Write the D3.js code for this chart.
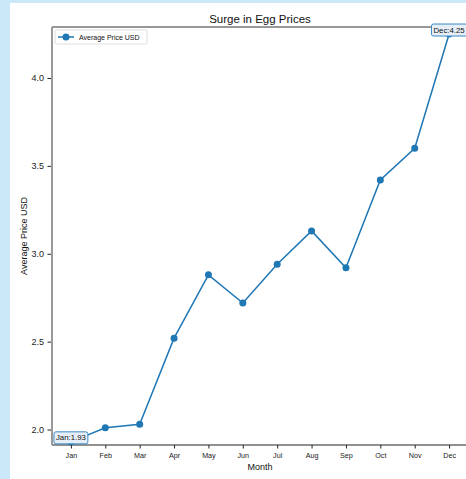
<!DOCTYPE html>
<html><head><meta charset="utf-8">
<script src="https://cdn.jsdelivr.net/npm/d3@7"></script>
<style>body{margin:0;} svg{display:block;font-family:"Liberation Sans",Arial,sans-serif;}</style>
</head><body>
<script>
const months = ["Jan","Feb","Mar","Apr","May","Jun","Jul","Aug","Sep","Oct","Nov","Dec"];
const prices = [1.93,2.01,2.03,2.52,2.88,2.72,2.94,3.13,2.92,3.42,3.60,4.25];
const yTicks = [2.0,2.5,3.0,3.5,4.0];
const annotated = [0,11];

const W=466,H=479;
const svg=d3.select("body").append("svg").attr("width",W).attr("height",H);
svg.append("rect").attr("width",W).attr("height",H).attr("fill","#cbe8f8");
svg.append("rect").attr("x",10).attr("y",3).attr("width",W-10).attr("height",H-3).attr("fill","#ffffff");

const L=52,R=468,T=27,B=445;
const x=d3.scaleLinear().domain([-0.55,11.55]).range([L,R]);
const y=d3.scaleLinear().domain([1.912,4.29]).range([B,T]);
const color="#1f77b4";

// spines
svg.append("line").attr("x1",L).attr("x2",R).attr("y1",T).attr("y2",T).attr("stroke","#333").attr("stroke-width",1);
svg.append("line").attr("x1",L).attr("x2",R).attr("y1",B).attr("y2",B).attr("stroke","#222").attr("stroke-width",1.2);
svg.append("line").attr("x1",L).attr("x2",L).attr("y1",T).attr("y2",B).attr("stroke","#999").attr("stroke-width",2);

// y axis
const ya=svg.append("g").attr("transform",`translate(${L-1},0)`)
  .call(d3.axisLeft(y).tickValues(yTicks).tickFormat(d3.format(".1f")).tickSize(3.5).tickPadding(3.5));
ya.select(".domain").remove();
ya.selectAll("text").attr("font-size",9).attr("fill","#222").style("font-family","Liberation Sans,Arial,sans-serif");
ya.selectAll("line").attr("stroke","#222");

// x axis
const xa=svg.append("g").attr("transform",`translate(0,${B})`)
  .call(d3.axisBottom(x).tickValues(d3.range(months.length)).tickFormat(i=>months[i]).tickSize(3.5).tickPadding(4.5));
xa.select(".domain").remove();
xa.selectAll("text").attr("font-size",7.2).attr("fill","#222").style("font-family","Liberation Sans,Arial,sans-serif");
xa.selectAll("line").attr("stroke","#222");

// labels
svg.append("text").attr("x",(L+R)/2).attr("y",23).attr("text-anchor","middle").attr("font-size",11.5).attr("fill","#111").text("Surge in Egg Prices");
svg.append("text").attr("x",(L+R)/2).attr("y",470).attr("text-anchor","middle").attr("font-size",9).attr("fill","#111").text("Month");
svg.append("text").attr("transform",`translate(27,${(T+B)/2}) rotate(-90)`).attr("text-anchor","middle").attr("font-size",9).attr("fill","#111").text("Average Price USD");

// line
const line=d3.line().x((d,i)=>x(i)).y(d=>y(d));
svg.append("path").datum(prices).attr("d",line).attr("fill","none").attr("stroke",color).attr("stroke-width",1.5);
svg.selectAll("circle.pt").data(prices).enter().append("circle").attr("class","pt")
  .attr("cx",(d,i)=>x(i)).attr("cy",d=>y(d)).attr("r",3.5).attr("fill",color);

// annotations
annotated.forEach(i=>{
  const cx=x(i), cy=y(prices[i])-4;
  const g=svg.append("g");
  const t=g.append("text").attr("x",cx).attr("y",cy).attr("text-anchor","middle").attr("dominant-baseline","central")
    .attr("font-size",7.8).attr("fill","#111").text(months[i]+":"+prices[i].toFixed(2));
  const bb=t.node().getBBox();
  g.insert("rect","text").attr("x",bb.x-2).attr("y",cy-6).attr("width",bb.width+4).attr("height",12)
    .attr("rx",2).attr("fill","#e6eff8").attr("stroke","#3d8ac4").attr("stroke-width",1);
});

// legend
const lg=svg.append("g");
lg.append("rect").attr("x",55).attr("y",30).attr("width",92).attr("height",14).attr("rx",2).attr("fill","#fff").attr("stroke","#d5d5d5").attr("stroke-width",0.8);
lg.append("line").attr("x1",58).attr("x2",74).attr("y1",37).attr("y2",37).attr("stroke",color).attr("stroke-width",1.5);
lg.append("circle").attr("cx",66).attr("cy",37).attr("r",3.5).attr("fill",color);
lg.append("text").attr("x",79).attr("y",37).attr("dominant-baseline","central").attr("font-size",7).attr("fill","#111").text("Average Price USD");
</script>
</body></html>
